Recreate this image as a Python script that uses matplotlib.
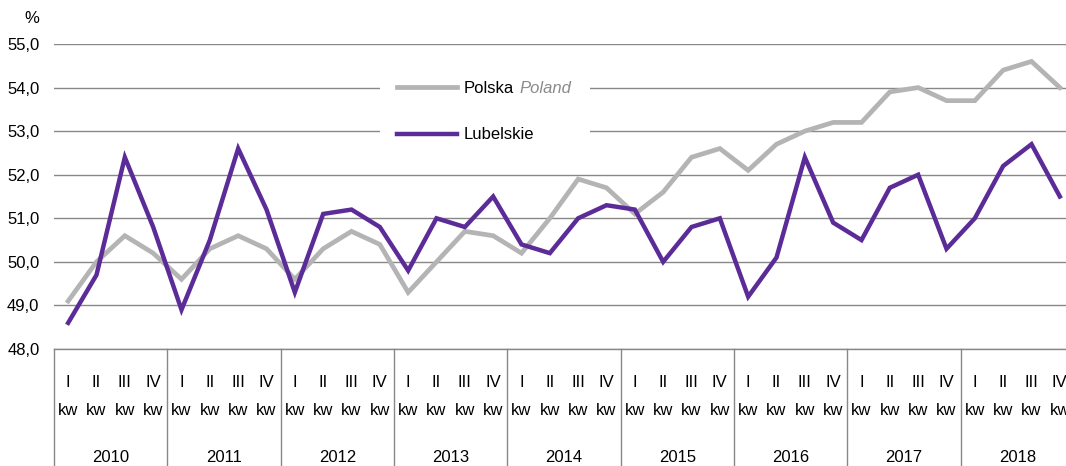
import numpy as np
import matplotlib
matplotlib.use("Agg")
import matplotlib.pyplot as plt
from matplotlib import font_manager
from matplotlib.patches import Rectangle
from matplotlib.ticker import FuncFormatter

# narrow font if we have one, otherwise Arial-like Liberation Sans
main_font = "Liberation Sans"
try:
    font_manager.findfont("Liberation Sans Narrow", fallback_to_default=False)
    main_font = "Liberation Sans Narrow"
except ValueError:
    pass
plt.rcParams['font.family'] = [main_font, 'DejaVu Sans']

# ------------------ DATA ------------------
years = ["2010", "2011", "2012", "2013", "2014", "2015", "2016", "2017", "2018"]
quarters = ["I", "II", "III", "IV"]
polska = [49.1, 50.0, 50.6, 50.2, 49.6, 50.3, 50.6, 50.3, 49.6, 50.3, 50.7, 50.4,
          49.3, 50.0, 50.7, 50.6, 50.2, 51.0, 51.9, 51.7, 51.1, 51.6, 52.4, 52.6,
          52.1, 52.7, 53.0, 53.2, 53.2, 53.9, 54.0, 53.7, 53.7, 54.4, 54.6, 54.0]
lubelskie = [48.6, 49.7, 52.4, 50.8, 48.9, 50.5, 52.6, 51.2, 49.3, 51.1, 51.2, 50.8,
             49.8, 51.0, 50.8, 51.5, 50.4, 50.2, 51.0, 51.3, 51.2, 50.0, 50.8, 51.0,
             49.2, 50.1, 52.4, 50.9, 50.5, 51.7, 52.0, 50.3, 51.0, 52.2, 52.7, 51.5]
# ------------------------------------------

grid_col = "#888888"
fs = 12.5 if main_font == "Liberation Sans Narrow" else 12

fig = plt.figure(figsize=(10.66, 4.66), dpi=100)
# axes runs a bit past the right edge, like the original
ax = fig.add_axes([54 / 1066, 117 / 466, 1020 / 1066, 305 / 466])

x = np.arange(len(polska))
ax.plot(x, polska, color="#b4b4b4", lw=3.4, label="Polska", zorder=3,
        solid_joinstyle="miter")
ax.plot(x, lubelskie, color="#5b2c98", lw=3.2, label="Lubelskie", zorder=4,
        solid_joinstyle="miter")

ax.set_xlim(-0.5, len(polska) - 0.5)
ax.set_ylim(48, 55)
ax.set_yticks(np.arange(48, 56, 1))
ax.yaxis.set_major_formatter(FuncFormatter(lambda v, p: f"{v:.1f}".replace(".", ",")))
ax.tick_params(axis="y", length=0, pad=10.5, labelsize=fs)
ax.set_xticks([])
ax.grid(axis="y", color=grid_col, lw=1)
ax.set_axisbelow(True)
for s in ["top", "right", "left"]:
    ax.spines[s].set_visible(False)
ax.spines["bottom"].set_color(grid_col)
ax.spines["bottom"].set_linewidth(1)

# % label above the y axis
ax.text(-0.014, 1.085, "%", transform=ax.transAxes, ha="right", va="center", fontsize=fs)

# multi-level category axis
xt = ax.get_xaxis_transform()
for k, yr in enumerate(years):
    ax.plot([4 * k - 0.5, 4 * k - 0.5], [0, -0.4], transform=xt, color=grid_col,
            lw=1, clip_on=False)
    for q, qn in enumerate(quarters):
        ax.text(4 * k + q, -0.111, qn, transform=xt, ha="center", va="center",
                fontsize=fs, clip_on=False)
        ax.text(4 * k + q, -0.203, "kw", transform=xt, ha="center", va="center",
                fontsize=fs, clip_on=False)
    ax.text(4 * k + 1.5, -0.357, yr, transform=xt, ha="center", va="center",
            fontsize=fs, clip_on=False)

# white patch where the legend sits (gridlines are cut there)
ax.add_patch(Rectangle((0.3196, 0.652), 0.206, 0.295, transform=ax.transAxes,
                       facecolor="white", edgecolor="none", zorder=2))

leg = ax.legend(loc="center left", bbox_to_anchor=(384 / 1066, (466 - 111.5) / 466),
                bbox_transform=fig.transFigure, frameon=False, fontsize=fs,
                handlelength=3.6, handletextpad=0.4, labelspacing=1.9,
                borderpad=0.8, borderaxespad=0)
leg.set_zorder(5)

# "Poland" in grey italic after "Polska"
fig.canvas.draw()
bb = leg.get_texts()[0].get_window_extent()
fig.text((bb.x1 + 5) / 1066, (bb.y0 + bb.y1) / 2 / 466, "Poland", fontsize=fs,
         style="italic", color="#8a8a8a", va="center", ha="left")

fig.savefig("out.png", dpi=100)
